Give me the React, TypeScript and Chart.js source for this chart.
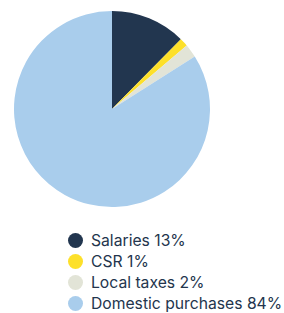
import React, { useEffect, useRef } from "react";
import { Chart, registerables } from "chart.js";

Chart.register(...registerables);

const categories = ["Salaries", "CSR", "Local taxes", "Domestic purchases"];
const shareLabels = ["13%", "1%", "2%", "84%"];
const values = [12.4, 1.4, 2.2, 84.0];
const colors = ["#22364f", "#fde02a", "#e2e4d7", "#a9cdec"];

export default function App() {
  const canvasRef = useRef<HTMLCanvasElement | null>(null);

  useEffect(() => {
    document.body.style.margin = "0";
    const canvas = canvasRef.current;
    if (!canvas) return;
    const chart = new Chart(canvas, {
      type: "pie",
      data: {
        labels: categories,
        datasets: [
          {
            data: values,
            backgroundColor: colors,
            borderWidth: 0,
          },
        ],
      },
      options: {
        responsive: false,
        animation: false,
        layout: { padding: 11 },
        plugins: {
          legend: { display: false },
          tooltip: { enabled: false },
        },
      },
    });
    return () => chart.destroy();
  }, []);

  return (
    <div style={{ position: "relative", width: 284, height: 313, fontFamily: "Inter, 'Noto Sans', sans-serif" }}>
      <canvas ref={canvasRef} width={224} height={218} style={{ position: "absolute", left: 0, top: 0 }} />
      <div style={{ position: "absolute", left: 68, top: 230 }}>
        {categories.map((c, i) => (
          <div key={c} style={{ display: "flex", alignItems: "center", height: 21 }}>
            <span
              style={{
                width: 15,
                height: 15,
                borderRadius: "50%",
                background: colors[i],
                display: "inline-block",
                marginRight: 8,
                flex: "none",
              }}
            />
            <span style={{ fontSize: 15.7, color: "#23354d", whiteSpace: "nowrap", lineHeight: "21px" }}>
              {c} {shareLabels[i]}
            </span>
          </div>
        ))}
      </div>
    </div>
  );
}
